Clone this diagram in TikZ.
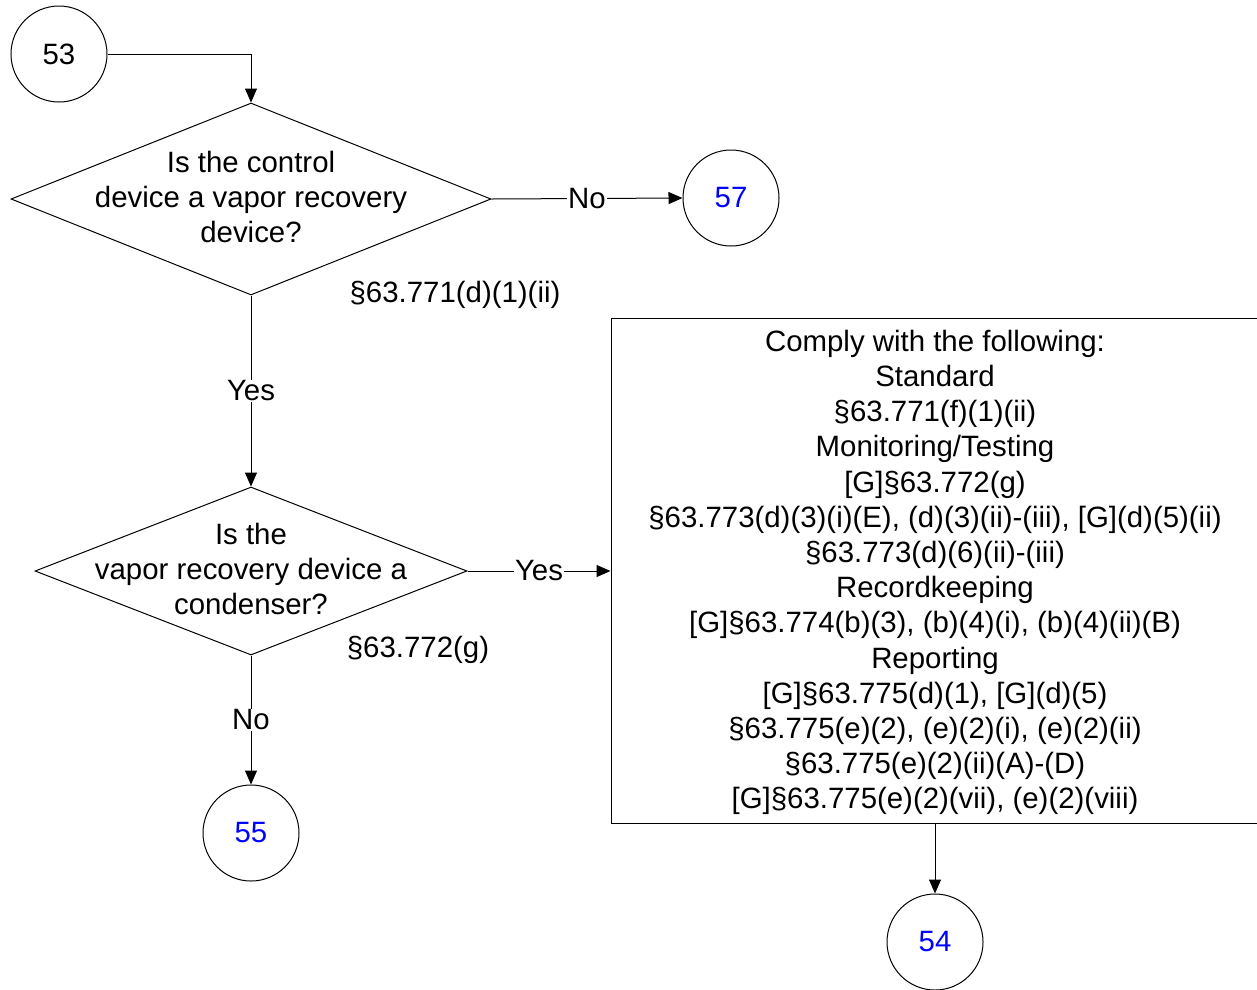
\documentclass[tikz,border=0pt]{standalone}
\usepackage{fontspec}
\setmainfont{Liberation Sans}
\usetikzlibrary{shapes.geometric,arrows.meta}
\definecolor{numblue}{RGB}{0,0,255}
\begin{document}
\begin{tikzpicture}[x=1pt,y=-1pt,
  every node/.style={font=\fontsize{29.4}{35.2}\selectfont},
  conn/.style={circle,draw,line width=1pt,minimum size=96pt,inner sep=0pt},
  dec/.style={diamond,draw,line width=1pt,inner sep=0pt},
  box/.style={rectangle,draw,line width=1pt,align=center,inner sep=0pt},
  arr/.style={line width=1pt,-{Triangle[length=14pt,width=12pt]}},
  lbl/.style={fill=white,inner sep=1pt},
  refl/.style={inner sep=0pt}]
\useasboundingbox (0,0) rectangle (1257,989);
% connectors (circles)
\node[conn] (c53) at (59,54) {53};
\node[conn,text=numblue] (c57) at (731,198) {57};
\node[conn,text=numblue] (c55) at (251,833) {55};
\node[conn,text=numblue] (c54) at (935,942) {54};
% decisions
\node[dec,minimum width=480pt,minimum height=192pt,
  label={[align=center,yshift=2pt]center:Is the control\\device a vapor recovery\\device?}] (d1) at (251,199) {};
\node[dec,minimum width=432pt,minimum height=168pt,
  label={[align=center,yshift=2pt]center:Is the\\vapor recovery device a\\condenser?}] (d2) at (251,571) {};
% references
\node[refl] (r1) at (455,295) {§63.771(d)(1)(ii)};
\node[refl] (r2) at (418,650) {§63.772(g)};
% box
\node[box,minimum width=648pt,minimum height=505pt,
  label={[align=center,yshift=-2pt]center:Comply with the following:\\
Standard\\
§63.771(f)(1)(ii)\\
Monitoring/Testing\\
{[G]}§63.772(g)\\
§63.773(d)(3)(i)(E), (d)(3)(ii)-(iii), [G](d)(5)(ii)\\
§63.773(d)(6)(ii)-(iii)\\
Recordkeeping\\
{[G]}§63.774(b)(3), (b)(4)(i), (b)(4)(ii)(B)\\
Reporting\\
{[G]}§63.775(d)(1), [G](d)(5)\\
§63.775(e)(2), (e)(2)(i), (e)(2)(ii)\\
§63.775(e)(2)(ii)(A)-(D)\\
{[G]}§63.775(e)(2)(vii), (e)(2)(viii)}] (bx) at (935,570.5) {};
% arrows
\draw[arr] (c53.east) -| (d1.north);
\draw[arr] (d1.east) -- node[lbl]{No} (c57.west);
\draw[arr] (d1.south) -- node[lbl]{Yes} (d2.north);
\draw[arr] (d2.east) -- node[lbl]{Yes} (d2.east -| bx.west);
\draw[arr] (d2.south) -- node[lbl]{No} (c55.north);
\draw[arr] (bx.south) -- (c54.north);
\end{tikzpicture}
\end{document}
